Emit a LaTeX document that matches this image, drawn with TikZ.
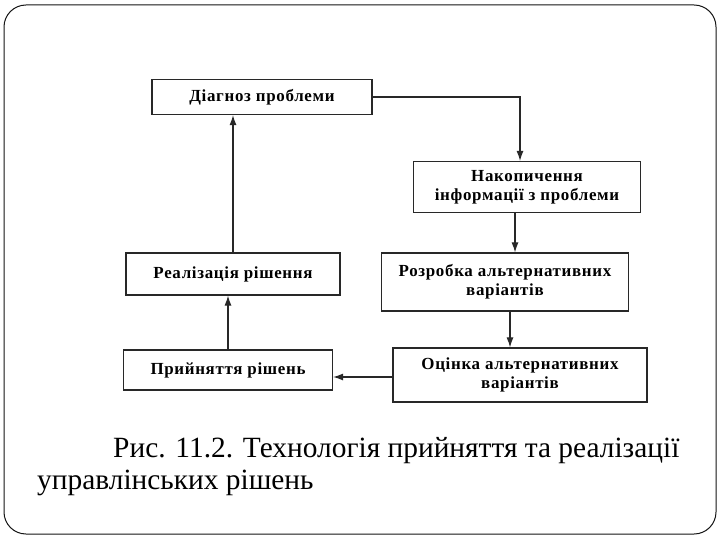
\documentclass[tikz,border=0pt]{standalone}
\usepackage{fontspec}
\setmainfont{Liberation Serif}
\usepackage{tikz}
\usetikzlibrary{arrows.meta}
\definecolor{sline}{RGB}{40,40,40}
\definecolor{frame}{RGB}{20,20,20}

\begin{document}
\begin{tikzpicture}[x=1bp,y=-1bp,>={Latex[length=10bp,width=7bp]}]
\tikzstyle{box}=[draw=sline, line width=1.2bp, fill=white, align=center, inner sep=2bp, font=\fontsize{17}{19}\selectfont\bfseries\addfontfeatures{LetterSpace=4}]
\tikzstyle{link}=[->, line width=1.1bp, sline]

\useasboundingbox (0,0) rectangle (720,540);
\draw[frame, line width=1bp, rounded corners=22bp] (4,5) rectangle (716,534);

\node[box, minimum width=220bp, minimum height=35bp] (diag) at (262,97) {Діагноз проблеми};
\node[box, minimum width=227bp, minimum height=51bp] (info) at (527,187) {Накопичення\\інформації з проблеми};
\node[box, minimum width=247bp, minimum height=58bp] (alt) at (505,282) {Розробка альтернативних\\варіантів};
\node[box, minimum width=254bp, minimum height=54bp] (eval) at (520,375) {Оцінка альтернативних\\варіантів};
\node[box, minimum width=209bp, minimum height=40bp] (accept) at (228,370) {Прийняття рішень};
\node[box, minimum width=214bp, minimum height=42bp] (impl) at (233,274) {Реалізація рішення};

\draw[link] (diag.east) -| (info.north -| 520,0);
\draw[link] (info.south -| 515,0) -- (alt.north -| 515,0);
\draw[link] (alt.south -| 510,0) -- (eval.north -| 510,0);
\draw[link] (eval.west |- 0,377) -- (accept.east |- 0,377);
\draw[link] (accept.north -| 228,0) -- (impl.south -| 228,0);
\draw[link] (impl.north -| 233,0) -- (diag.south -| 233,0);

\node[anchor=north west, align=left, inner sep=0pt, font=\fontsize{29.5}{32}\selectfont] (caption) at (37,437) {\hspace*{76bp}Рис. 11.2. Технологія прийняття та реалізації\\управлінських рішень};
\end{tikzpicture}
\end{document}
